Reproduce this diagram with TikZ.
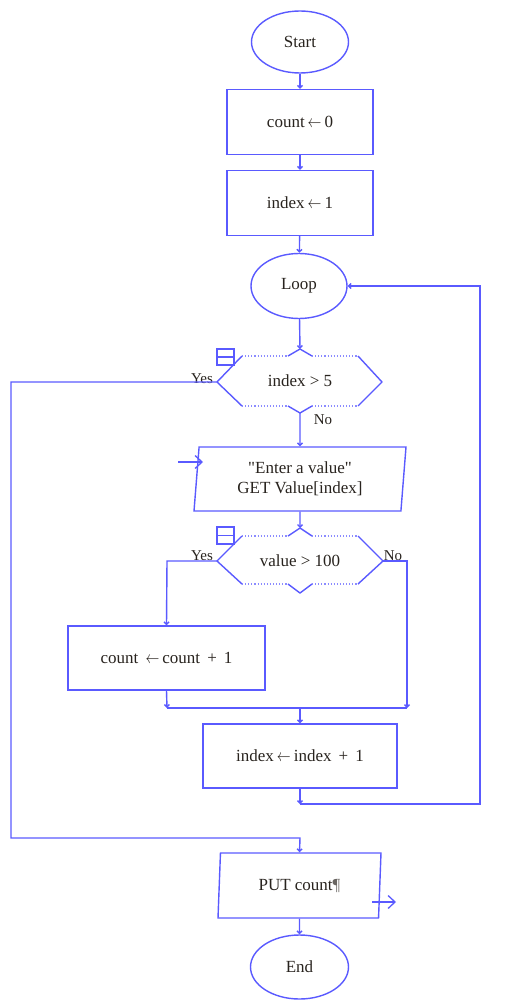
\documentclass[tikz,border=0pt]{standalone}
\usepackage{fontspec}
\setmainfont{Liberation Serif}
\newfontfamily\qfont{Liberation Serif}[Ligatures=ResetAll]
\usetikzlibrary{shapes.geometric,arrows.meta}
\definecolor{lb}{RGB}{90,90,255}
\definecolor{txt}{RGB}{40,35,30}
\newcommand\larr{\kern3pt\scalebox{0.8}[1]{$\leftarrow$}\kern3pt}
\newcommand\sq{{\qfont\symbol{34}}}
\tikzset{
  ln/.style={draw=lb, line width=1.4pt},
  term/.style={ellipse, ln, minimum width=97pt, minimum height=62pt, inner sep=0pt, font=\fontsize{17}{20}\selectfont, text=txt},
  proc/.style={rectangle, ln, minimum width=146pt, minimum height=65pt, inner sep=0pt, font=\fontsize{17}{20}\selectfont, text=txt},
  iobox/.style={trapezium, trapezium stretches body, ln, inner sep=0pt, font=\fontsize{17}{20}\selectfont, text=txt, align=center},
  plain/.style={inner sep=0pt, font=\fontsize{17}{20}\selectfont, text=txt},
  lab/.style={inner sep=0pt, font=\fontsize{15}{17}\selectfont, text=txt, anchor=base},
  ar/.style={ln, -{Straight Barb[length=2.5pt,width=5pt]}},
  openar/.style={ln, -{Straight Barb[length=7pt,width=13pt,line width=1.3pt]}},
  dots/.style={draw=lb!70, line width=1.1pt, dotted},
}
\begin{document}
\begin{tikzpicture}[x=1pt,y=-1pt]
\useasboundingbox (0,0) rectangle (518,1000);
% nodes
\node[term] (start) at (300,42) {Start};
\node[proc] (c0) at (300,122) {count\larr 0};
\node[proc] (i1) at (300,203) {index\larr 1};
\node[term, minimum width=96pt, minimum height=65pt] (loop) at (299,286) {Loop};
% decision 1
\node[plain] (d1) at (300,381) {index > 5};
\coordinate (d1t) at (300,349);
\coordinate (d1b) at (300,413);
\coordinate (d1l) at (217,382);
\coordinate (d1r) at (382,382);
\draw[ln, line join=round] (242,356) -- (d1l) -- (242,406);
\draw[ln, line join=round] (358,356) -- (d1r) -- (358,406);
\draw[ln, line join=round] (288,356) -- (d1t) -- (312,356);
\draw[ln, line join=round] (288,406) -- (d1b) -- (312,406);
\draw[dots] (242,356) -- (288,356) (312,356) -- (358,356);
\draw[dots] (242,406) -- (288,406) (312,406) -- (358,406);
\draw[ln] (217,349) rectangle (234,365) (217,357) -- (234,357);
\node[lab] (yes1) at (202,383) {Yes};
\node[lab] (no1) at (323,424) {No};
% input
\node[iobox, trapezium left angle=81.5, trapezium right angle=98.5, minimum width=212pt, minimum height=64pt] (in) at (300,479) {\sq Enter a value\sq\\[0pt]GET Value[index]};
\coordinate (inarr) at (178,462);
\coordinate (inedge) at (203,462);
% decision 2
\node[plain] (d2) at (300,561) {value > 100};
\coordinate (d2t) at (300,528);
\coordinate (d2b) at (300,593);
\coordinate (d2l) at (217,561);
\coordinate (d2r) at (383,561);
\draw[ln, line join=round] (242,536) -- (d2l) -- (242,584);
\draw[ln, line join=round] (358,536) -- (d2r) -- (358,584);
\draw[ln, line join=round] (288,536) -- (d2t) -- (312,536);
\draw[ln, line join=round] (288,584) -- (d2b) -- (312,584);
\draw[dots] (242,536) -- (288,536) (312,536) -- (358,536);
\draw[dots] (242,584) -- (288,584) (312,584) -- (358,584);
\draw[ln] (217,527) rectangle (234,544) (217,535.5) -- (234,535.5);
\node[lab] (yes2) at (202,560) {Yes};
\node[lab] (no2) at (393,560) {No};
% count +1
\node[proc, minimum width=197pt, minimum height=64pt] (inc) at (166.5,658) {count \larr count \,+\, 1};
% index + 1
\node[proc, minimum width=194pt, minimum height=64pt] (i2) at (300,756) {index\larr index \,+\, 1};
% output
\node[iobox, trapezium left angle=79.5, trapezium right angle=100.5, minimum width=163pt, minimum height=65pt] (put) at (299.5,885.5) {PUT count{\color{txt!70}¶}};
\coordinate (outs) at (372,902);
\coordinate (oute) at (396,902);
\node[term, minimum width=98pt, minimum height=64pt] (end) at (299.5,967) {End};
% junction coordinates
\coordinate (yesL) at (11,382);
\coordinate (yesB) at (11,838);
\coordinate (yesR) at (300,838);
\coordinate (j2l) at (167,561);
\coordinate (m1) at (167,708);
\coordinate (m2) at (407,708);
\coordinate (m0) at (300,708);
\coordinate (n2) at (407,561);
\coordinate (b1) at (300,804);
\coordinate (b2) at (480,804);
\coordinate (b3) at (480,286);
% connectors
\draw[ar] (start) -- (c0);
\draw[ar] (c0) -- (i1);
\draw[ar] (i1) -- (loop);
\draw[ar] (loop) -- (d1t);
\draw[ar] (d1l) -- (yesL) -- (yesB) -- (yesR) -- (put.north);
\draw[ar] (d1b) -- (in.north);
\draw[openar] (inarr) -- (inedge);
\draw[ar] (in.south) -- (d2t);
\draw[ar] (d2l) -- (j2l) -- (inc.north);
\draw[ar] (inc.south) -- (m1);
\draw[ln] (m1) -- (m2);
\draw[ar] (d2r) -- (n2) -- (m2);
\draw[ar] (m0) -- (i2.north);
\draw[ar] (i2.south) -- (b1);
\draw[ar] (b1) -- (b2) -- (b3) -- (loop.east);
\draw[ar] (put.south) -- (end);
\draw[openar] (outs) -- (oute);
\end{tikzpicture}
\end{document}
